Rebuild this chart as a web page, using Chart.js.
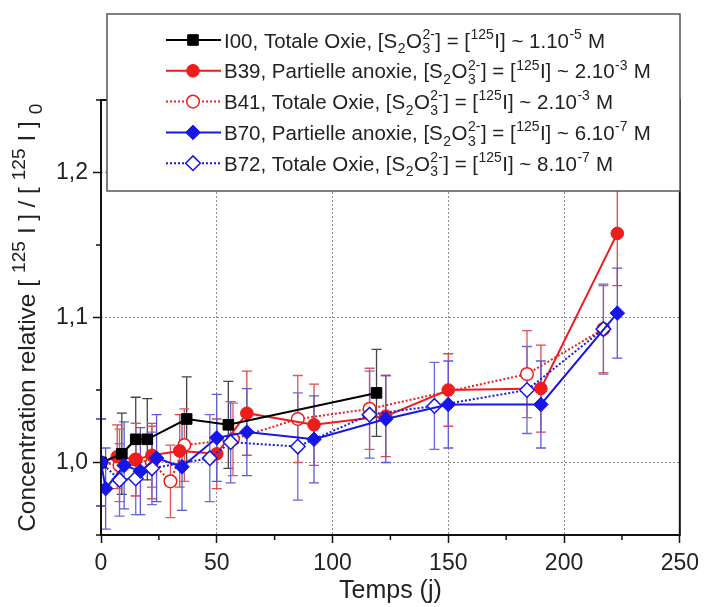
<!DOCTYPE html>
<html><head><meta charset="utf-8">
<script src="https://cdn.jsdelivr.net/npm/chart.js@4/dist/chart.umd.min.js"></script>
<style>html,body{margin:0;padding:0;background:#fff}#wrap{width:706px;height:607px;position:relative}</style>
</head><body><div id="wrap"><canvas id="c" width="706" height="607"></canvas></div>
<script>
// ---- tick labels ----
const xTickValues = [0, 50, 100, 150, 200, 250];
const xTickLabels = ['0', '50', '100', '150', '200', '250'];
const yTickValues = [1.0, 1.1, 1.2];
const yTickLabels = ['1,0', '1,1', '1,2'];
const xMinorTicks = [25, 75, 125, 175, 225];
const yMinorTicks = [0.95, 1.05, 1.15, 1.25];

// ---- series ----
const i00Days = [0, 9, 15, 20, 37, 55, 119];
const i00Conc = [1.000, 1.006, 1.016, 1.016, 1.030, 1.026, 1.048];
const i00Err  = [0.030, 0.028, 0.029, 0.028, 0.029, 0.030, 0.030];

const b39Days = [0, 7, 15, 22, 34, 50, 63, 92, 123, 150, 190, 223];
const b39Conc = [1.000, 1.004, 1.002, 1.005, 1.008, 1.006, 1.034, 1.026, 1.032, 1.050, 1.051, 1.158];
const b39Err  = [0.030, 0.022, 0.025, 0.022, 0.025, 0.024, 0.029, 0.028, 0.028, 0.025, 0.030, 0.036];

const b41Days = [0, 8, 15, 22, 30, 36, 57, 85, 116, 184, 217];
const b41Conc = [1.000, 0.998, 1.002, 1.000, 0.987, 1.012, 1.016, 1.030, 1.037, 1.061, 1.092];
const b41Err  = [0.030, 0.025, 0.025, 0.025, 0.025, 0.025, 0.025, 0.030, 0.028, 0.030, 0.030];

const b70Days = [0, 2, 10, 17, 24, 35, 50, 63, 92, 123, 150, 190, 223];
const b70Conc = [1.000, 0.982, 0.998, 0.994, 1.003, 0.997, 1.017, 1.021, 1.016, 1.030, 1.040, 1.040, 1.103];
const b70Err  = [0.030, 0.028, 0.030, 0.030, 0.030, 0.030, 0.030, 0.030, 0.030, 0.030, 0.030, 0.030, 0.031];

const b72Days = [0, 8, 15, 22, 47, 56, 85, 116, 144, 184, 217];
const b72Conc = [1.000, 0.988, 0.989, 0.996, 1.003, 1.014, 1.011, 1.033, 1.039, 1.050, 1.092];
const b72Err  = [0.030, 0.025, 0.025, 0.025, 0.030, 0.028, 0.037, 0.030, 0.030, 0.030, 0.031];

// ---- text ----
const xTitle = 'Temps (j)';
const yTitleSegs = [
  {k:'n', t:'Concentration relative '}, {k:'n', t:'['}, {k:'sup', t:'125'}, {k:'n', t:'I'},
  {k:'n', t:']'}, {k:'n', t:'/'}, {k:'n', t:'['}, {k:'sup', t:'125'}, {k:'n', t:'I'},
  {k:'n', t:']'}, {k:'sub', t:'0'}
];
function concSegs(name, cond, mant, exp) {
  return [
    {k:'n', t: name + ', ' + cond + ', [S'}, {k:'sub', t:'2'}, {k:'n', t:'O'},
    {k:'stack', sub:'3', sup:'2-'}, {k:'n', t:'] = ['}, {k:'sup', t:'125'},
    {k:'n', t:'I] ~ ' + mant}, {k:'sup', t:exp}, {k:'n', t:' M'}
  ];
}
const legendRows = [
  concSegs('I00', 'Totale Oxie', '1.10', '-5'),
  concSegs('B39', 'Partielle anoxie', '2.10', '-3'),
  concSegs('B41', 'Totale Oxie', '2.10', '-3'),
  concSegs('B70', 'Partielle anoxie', '6.10', '-7'),
  concSegs('B72', 'Totale Oxie', '8.10', '-7')
];

const FONT = "'Liberation Sans', Arial, Helvetica, sans-serif";
const RED = '#ee1c1c', BLUE = '#1616e6';

function pts(xs, ys) { return xs.map((x, i) => ({x: x, y: ys[i]})); }

function rich(ctx, segs, F, draw, x0, y0, sc, gap) {
  const s = F * sc;
  let x = x0;
  segs.forEach((g, i) => {
    if (i > 1) x += gap;
    if (g.k === 'n') {
      ctx.font = F + 'px ' + FONT;
      if (draw) ctx.fillText(g.t, x, y0);
      x += ctx.measureText(g.t).width;
    } else if (g.k === 'sup' || g.k === 'sub') {
      ctx.font = s + 'px ' + FONT;
      const dy = g.k === 'sup' ? -F * 0.42 : F * 0.28;
      if (draw) ctx.fillText(g.t, x + 0.5, y0 + dy);
      x += ctx.measureText(g.t).width + 1;
    } else if (g.k === 'stack') {
      ctx.font = s + 'px ' + FONT;
      if (draw) { ctx.fillText(g.sup, x + 0.5, y0 - F * 0.42); ctx.fillText(g.sub, x + 0.5, y0 + F * 0.28); }
      x += Math.max(ctx.measureText(g.sup).width, ctx.measureText(g.sub).width) + 1;
    }
  });
  return x - x0;
}

function drawMarker(ctx, ds, x, y) {
  ctx.save();
  ctx.beginPath();
  const r = ds.pointRadius;
  if (ds.pointStyle === 'rect') {
    const h = r * Math.SQRT1_2;
    ctx.rect(x - h, y - h, 2 * h, 2 * h);
  } else if (ds.pointStyle === 'rectRot') {
    ctx.moveTo(x, y - r); ctx.lineTo(x + r, y); ctx.lineTo(x, y + r); ctx.lineTo(x - r, y); ctx.closePath();
  } else {
    ctx.arc(x, y, r, 0, Math.PI * 2);
  }
  ctx.fillStyle = ds.pointBackgroundColor;
  ctx.fill();
  ctx.lineWidth = ds.pointBorderWidth;
  ctx.strokeStyle = ds.pointBorderColor;
  ctx.stroke();
  ctx.restore();
}

const decor = {
  id: 'decor',
  beforeDatasetsDraw(chart) {
    const ctx = chart.ctx, xs = chart.scales.x, ys = chart.scales.y;
    chart.data.datasets.forEach(ds => {
      ctx.save();
      ctx.strokeStyle = ds.errColor;
      ctx.lineWidth = 1.3;
      ds.data.forEach((p, i) => {
        const e = ds.errors[i];
        const px = xs.getPixelForValue(p.x);
        const top = ys.getPixelForValue(p.y + e);
        const bot = ys.getPixelForValue(p.y - e);
        ctx.beginPath();
        ctx.moveTo(px, top); ctx.lineTo(px, bot);
        ctx.moveTo(px - 5, top); ctx.lineTo(px + 5, top);
        ctx.moveTo(px - 5, bot); ctx.lineTo(px + 5, bot);
        ctx.stroke();
      });
      ctx.restore();
    });
  },
  afterDraw(chart) {
    const ctx = chart.ctx, a = chart.chartArea, xs = chart.scales.x, ys = chart.scales.y;
    ctx.save();
    ctx.strokeStyle = '#111';
    ctx.lineWidth = 2;
    ctx.strokeRect(a.left, a.top, a.right - a.left, a.bottom - a.top);
    ctx.lineWidth = 1.5;
    ctx.beginPath();
    xMinorTicks.forEach(v => { const p = xs.getPixelForValue(v); ctx.moveTo(p, a.bottom); ctx.lineTo(p, a.bottom + 5); });
    yMinorTicks.forEach(v => { const p = ys.getPixelForValue(v); ctx.moveTo(a.left, p); ctx.lineTo(a.left - 5, p); });
    ctx.stroke();
    // y title (rotated rich text)
    ctx.fillStyle = '#222';
    ctx.textBaseline = 'alphabetic';
    ctx.textAlign = 'left';
    const FY = 24.5;
    const w = rich(ctx, yTitleSegs, FY, false, 0, 0, 0.78, 6.5);
    ctx.translate(35, (a.top + a.bottom) / 2);
    ctx.rotate(-Math.PI / 2);
    rich(ctx, yTitleSegs, FY, true, -w / 2, 0, 0.78, 6.5);
    ctx.restore();

    // legend
    ctx.save();
    const L = {x: 107, y: 14, w: 573, h: 177};
    ctx.fillStyle = '#fff';
    ctx.fillRect(L.x, L.y, L.w, L.h);
    ctx.strokeStyle = '#555';
    ctx.lineWidth = 1.5;
    ctx.strokeRect(L.x, L.y, L.w, L.h);
    const FL = 20.5;
    ctx.textBaseline = 'alphabetic';
    ctx.textAlign = 'left';
    chart.data.datasets.forEach((ds, i) => {
      const cy = 40 + i * 30.8;
      ctx.save();
      ctx.strokeStyle = ds.borderColor;
      ctx.lineWidth = ds.borderWidth;
      ctx.setLineDash(ds.borderDash || []);
      ctx.beginPath(); ctx.moveTo(166, cy); ctx.lineTo(221, cy); ctx.stroke();
      ctx.restore();
      drawMarker(ctx, ds, 193, cy);
      ctx.fillStyle = '#222';
      rich(ctx, legendRows[i], FL, true, 224, cy + 7.5, 0.68, 0);
    });
    ctx.restore();
  }
};

const datasets = [
  {label: 'I00', data: pts(i00Days, i00Conc), errors: i00Err, errColor: '#444',
   borderColor: '#000', borderWidth: 2, pointStyle: 'rect', pointRadius: 7.5,
   pointBackgroundColor: '#000', pointBorderColor: '#000', pointBorderWidth: 1, order: 2},
  {label: 'B39', data: pts(b39Days, b39Conc), errors: b39Err, errColor: '#e04848',
   borderColor: RED, borderWidth: 2, pointStyle: 'circle', pointRadius: 6.3,
   pointBackgroundColor: RED, pointBorderColor: RED, pointBorderWidth: 1, order: 3},
  {label: 'B41', data: pts(b41Days, b41Conc), errors: b41Err, errColor: '#e05858',
   borderColor: RED, borderWidth: 2, borderDash: [2, 2], pointStyle: 'circle', pointRadius: 6.3,
   pointBackgroundColor: '#fff', pointBorderColor: RED, pointBorderWidth: 1.5, order: 4},
  {label: 'B70', data: pts(b70Days, b70Conc), errors: b70Err, errColor: '#5a5ad8',
   borderColor: BLUE, borderWidth: 2, pointStyle: 'rectRot', pointRadius: 7.3,
   pointBackgroundColor: BLUE, pointBorderColor: BLUE, pointBorderWidth: 1, order: 0},
  {label: 'B72', data: pts(b72Days, b72Conc), errors: b72Err, errColor: '#6a6ad8',
   borderColor: BLUE, borderWidth: 2, borderDash: [2, 2], pointStyle: 'rectRot', pointRadius: 7.3,
   pointBackgroundColor: '#fff', pointBorderColor: BLUE, pointBorderWidth: 1.5, order: 1}
];
datasets.forEach(d => { d.fill = false; d.tension = 0; d.pointHoverRadius = d.pointRadius; });

new Chart(document.getElementById('c'), {
  type: 'line',
  data: {datasets: datasets},
  options: {
    responsive: false,
    devicePixelRatio: 1,
    animation: false,
    events: [],
    layout: {padding: {top: 100, right: 23, left: 0, bottom: 0}},
    plugins: {legend: {display: false}, tooltip: {enabled: false}},
    scales: {
      x: {
        type: 'linear', min: 0, max: 250,
        afterBuildTicks: s => { s.ticks = xTickValues.map(v => ({value: v})); },
        afterFit: s => { s.height = 72; },
        ticks: {
          callback: (v, i) => xTickLabels[i],
          font: {family: FONT, size: 23}, color: '#222', padding: 7, maxRotation: 0
        },
        grid: {color: '#8c8c8c', lineWidth: 1, tickColor: '#111', tickLength: 8, tickWidth: 1.5},
        border: {display: false, dash: [2, 2]},
        title: {display: true, text: xTitle, font: {family: FONT, size: 25}, color: '#222', padding: {top: 0, bottom: 1}}
      },
      y: {
        type: 'linear', min: 0.95, max: 1.25,
        afterBuildTicks: s => { s.ticks = yTickValues.map(v => ({value: v})); },
        afterFit: s => { s.width = 101; },
        ticks: {
          callback: (v, i) => yTickLabels[i],
          font: {family: FONT, size: 23}, color: '#222', padding: 5
        },
        grid: {color: '#8c8c8c', lineWidth: 1, tickColor: '#111', tickLength: 8, tickWidth: 1.5},
        border: {display: false, dash: [2, 2]}
      }
    }
  },
  plugins: [decor]
});
</script>
</body></html>
